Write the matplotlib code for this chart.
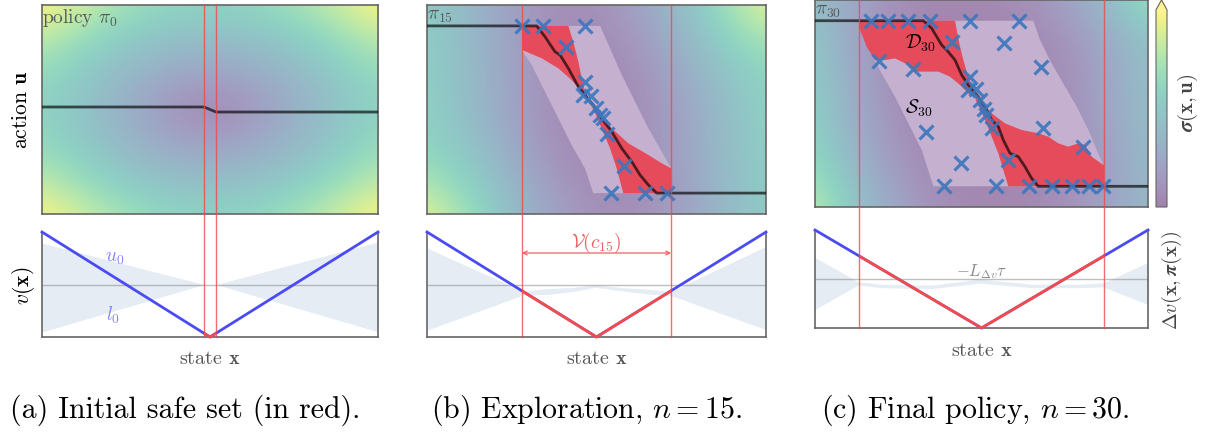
import numpy as np
import matplotlib.pyplot as plt
from matplotlib.colors import ListedColormap
from matplotlib.lines import Line2D
from matplotlib.patches import Polygon, Rectangle
from matplotlib import transforms

plt.rcParams['font.family'] = 'serif'
plt.rcParams['font.serif'] = ['cmr10']
plt.rcParams['mathtext.fontset'] = 'cm'
plt.rcParams['axes.unicode_minus'] = False

# sigma(x, u) on a coarse 7x7 grid, rows u = 1 .. -1, cols x = -1 .. 1
sigma_a = [[1.00, 0.80, 0.64, 0.58, 0.64, 0.80, 1.00],
           [0.82, 0.60, 0.45, 0.40, 0.45, 0.60, 0.82],
           [0.66, 0.46, 0.28, 0.18, 0.28, 0.46, 0.66],
           [0.60, 0.40, 0.18, 0.00, 0.18, 0.40, 0.60],
           [0.66, 0.46, 0.28, 0.18, 0.28, 0.46, 0.66],
           [0.82, 0.60, 0.45, 0.40, 0.45, 0.60, 0.82],
           [1.00, 0.80, 0.64, 0.58, 0.64, 0.80, 1.00]]
sigma_b = [[0.55, 0.30, 0.10, 0.08, 0.25, 0.60, 0.95],
           [0.56, 0.32, 0.08, 0.04, 0.18, 0.50, 0.75],
           [0.58, 0.33, 0.10, 0.03, 0.12, 0.40, 0.62],
           [0.60, 0.33, 0.10, 0.02, 0.10, 0.33, 0.60],
           [0.62, 0.40, 0.12, 0.03, 0.10, 0.33, 0.58],
           [0.75, 0.50, 0.18, 0.04, 0.08, 0.32, 0.56],
           [0.95, 0.60, 0.25, 0.08, 0.10, 0.30, 0.55]]
sigma_c = [[0.45, 0.15, 0.05, 0.05, 0.10, 0.30, 0.72],
           [0.50, 0.10, 0.02, 0.02, 0.05, 0.20, 0.50],
           [0.55, 0.12, 0.02, 0.01, 0.03, 0.15, 0.45],
           [0.58, 0.15, 0.03, 0.01, 0.03, 0.15, 0.45],
           [0.62, 0.18, 0.04, 0.02, 0.02, 0.12, 0.42],
           [0.72, 0.25, 0.06, 0.02, 0.03, 0.12, 0.40],
           [0.85, 0.35, 0.10, 0.05, 0.05, 0.15, 0.38]]

# policies pi_0, pi_15, pi_30
pol_x_a = [-1, -0.036, 0.036, 1]
pol_u_a = [0.024, 0.024, -0.024, -0.024]
pol_x_b = [-1, -0.353, -0.304, -0.245, -0.215, -0.166, -0.107, -0.068, -0.019,
           0.030, 0.090, 0.149, 0.208, 0.257, 0.306, 0.355, 1]
pol_u_b = [0.80, 0.80, 0.697, 0.553, 0.522, 0.394, 0.218, 0.139, 0.043,
           -0.085, -0.212, -0.372, -0.499, -0.627, -0.722, -0.80, -0.80]
pol_x_c = [-1, -0.349, -0.299, -0.239, -0.209, -0.159, -0.119, -0.079, -0.019,
           0.031, 0.061, 0.101, 0.131, 0.171, 0.221, 0.261, 0.301, 0.341, 1]
pol_u_c = [0.80, 0.80, 0.726, 0.565, 0.517, 0.420, 0.275, 0.179, 0.066,
           -0.063, -0.159, -0.224, -0.353, -0.481, -0.514, -0.610, -0.723, -0.80, -0.80]

# collected data points
data_x_b = [-0.438, -0.314, -0.068, -0.182, -0.068, -0.081, -0.032, -0.003,
            0.021, 0.040, 0.060, 0.162, 0.086, 0.288, 0.414]
data_u_b = [0.80, 0.80, 0.80, 0.595, 0.263, 0.136, 0.129, 0.014,
            -0.053, -0.077, -0.234, -0.538, -0.80, -0.80, -0.80]
data_x_c = [-0.664, -0.560, -0.440, -0.309, -0.069, 0.227, -0.179, 0.135,
            -0.616, -0.410, 0.357, -0.069, -0.079, -0.035, -0.009, 0.017,
            0.025, 0.061, 0.371, -0.333, 0.608, 0.161, -0.123,
            -0.225, 0.087, 0.287, 0.422, 0.542, 0.647, 0.728]
data_u_c = [0.80, 0.80, 0.80, 0.80, 0.80, 0.80, 0.591, 0.582,
            0.414, 0.333, 0.350, 0.253, 0.130, 0.137, 0.034, -0.056,
            -0.111, -0.240, -0.234, -0.272, -0.417, -0.546, -0.578,
            -0.80, -0.80, -0.80, -0.80, -0.80, -0.80, -0.80]

# level set of v (light) and the part where v decreases (red)
level_b = [(-0.438, 0.80), (0.021, 0.80), (0.080, 0.585), (0.149, 0.330),
           (0.227, 0.075), (0.306, -0.180), (0.385, -0.404), (0.44, -0.563),
           (0.44, -0.80), (-0.019, -0.80), (-0.068, -0.563), (-0.147, -0.340),
           (-0.225, -0.085), (-0.304, 0.171), (-0.382, 0.426), (-0.438, 0.560)]
dec_b_1 = [(-0.438, 0.80), (-0.166, 0.80), (-0.137, 0.649), (-0.107, 0.458),
           (-0.087, 0.298), (-0.068, 0.171), (-0.038, 0.075), (-0.009, -0.021),
           (-0.087, 0.171), (-0.147, 0.282), (-0.225, 0.394), (-0.323, 0.490),
           (-0.438, 0.569)]
dec_b_2 = [(-0.019, 0.011), (0.011, -0.021), (0.090, -0.180), (0.188, -0.324),
           (0.306, -0.435), (0.385, -0.515), (0.44, -0.563), (0.44, -0.80),
           (0.158, -0.80), (0.119, -0.563), (0.080, -0.372), (0.030, -0.180)]
level_c = [(-0.736, 0.80), (0.311, 0.80), (0.351, 0.614), (0.421, 0.388),
           (0.502, 0.163), (0.572, -0.031), (0.642, -0.256), (0.692, -0.449),
           (0.732, -0.594), (0.736, -0.594), (0.736, -0.80), (-0.289, -0.80),
           (-0.359, -0.449), (-0.439, -0.192), (-0.520, 0.066), (-0.600, 0.291),
           (-0.680, 0.549), (-0.736, 0.758)]
dec_c_1 = [(-0.736, 0.80), (-0.159, 0.80), (-0.149, 0.710), (-0.129, 0.549),
           (-0.109, 0.420), (-0.089, 0.308), (-0.069, 0.211), (-0.039, 0.098),
           (-0.009, 0.034), (-0.079, 0.098), (-0.129, 0.179), (-0.189, 0.259),
           (-0.259, 0.308), (-0.329, 0.308), (-0.399, 0.308), (-0.459, 0.388),
           (-0.520, 0.436), (-0.580, 0.420), (-0.640, 0.420), (-0.690, 0.549),
           (-0.736, 0.742)]
dec_c_2 = [(-0.009, 0.034), (0.061, -0.095), (0.141, -0.192), (0.241, -0.256),
           (0.341, -0.288), (0.401, -0.320), (0.461, -0.385), (0.521, -0.417),
           (0.582, -0.385), (0.622, -0.401), (0.662, -0.514), (0.732, -0.594),
           (0.736, -0.594), (0.736, -0.80), (0.161, -0.80), (0.131, -0.643),
           (0.101, -0.481), (0.061, -0.320), (0.021, -0.159), (-0.039, 0.050)]

# Lyapunov function v(x) and the bounds on its decrease
v_x = [-1, 0, 1]
v_y = [1, 0, 1]
level_c_vals = [0.036, 0.44, 0.736]
band_x_a = [-1, -0.036, 0.036, 1]
band_up_a = [0.895, 0.5, 0.5, 0.905]
band_lo_a = [0.048, 0.5, 0.5, 0.05]
band_x_b = [-1, -0.434, -0.30, -0.15, -0.007, 0.15, 0.30, 0.441, 1]
band_up_b = [0.848, 0.435, 0.46, 0.47, 0.498, 0.47, 0.455, 0.435, 0.864]
band_lo_b = [0.065, 0.40, 0.405, 0.43, 0.473, 0.44, 0.41, 0.395, 0.07]
band_x_c = [-1, -0.74, -0.6, -0.3, -0.01, 0.3, 0.6, 0.73, 1]
band_up_c = [0.72, 0.47, 0.447, 0.437, 0.50, 0.447, 0.447, 0.46, 0.67]
band_lo_c = [0.19, 0.44, 0.412, 0.402, 0.458, 0.412, 0.412, 0.42, 0.24]

W, H = 1226, 432
fig = plt.figure(figsize=(W / 100, H / 100), dpi=100)
fig.patch.set_facecolor('white')

base = plt.get_cmap('viridis')(np.linspace(0, 1, 256))
base[:, :3] = 0.5 * base[:, :3] + 0.5
faded = ListedColormap(base)

GRAY = '#666666'


def box(l, t, r, b):
    return fig.add_axes([l / W, 1 - b / H, (r - l) / W, (b - t) / H])


def draw_top(ax, sigma, px, pu, label):
    n = len(sigma)
    d = 2.0 / (n - 1)
    im = ax.imshow(sigma, cmap=faded, vmin=0, vmax=1, aspect='auto',
                   interpolation='bicubic',
                   extent=[-1 - d / 2, 1 + d / 2, -1 - d / 2, 1 + d / 2])
    ax.set_xlim(-1, 1)
    ax.set_ylim(-1, 1)
    ax.plot(px, pu, color='black', alpha=0.65, lw=2, zorder=4)
    ax.text(0.0, 0.99, label, transform=ax.transAxes, ha='left', va='top',
            color='#5a5a5a', fontsize=14, zorder=6)
    ax.set_xticks([])
    ax.set_yticks([])
    for s in ax.spines.values():
        s.set_color(GRAY)
        s.set_linewidth(1.2)
    return im


def draw_bottom(ax, c, bx, bup, blo):
    ax.patch.set_visible(False)
    ax.fill_between(bx, blo, bup, color='#e5ecf4', lw=0)
    ax.axhline(0.5, color='gray', alpha=0.5, lw=1)
    ax.plot(v_x, v_y, color='#4b4bf5', lw=2, clip_on=False, zorder=3)
    red, = ax.plot(v_x, v_y, color='#f54b4b', lw=2, zorder=4)
    clip = Rectangle((-c, -0.5), 2 * c, 2,
                     transform=transforms.blended_transform_factory(ax.transData, ax.transAxes))
    red.set_clip_path(clip)
    ax.set_xlim(-1, 1)
    ax.set_ylim(0, 1)
    ax.set_xticks([])
    ax.set_yticks([])
    ax.spines['top'].set_visible(False)
    for k in ['left', 'right', 'bottom']:
        ax.spines[k].set_color(GRAY)
        ax.spines[k].set_linewidth(1.2)


def region(ax, pts, color):
    ax.add_patch(Polygon(pts, closed=True, facecolor=color, edgecolor='none', zorder=2))


def level_lines(ax_top, ax_bot, c):
    y0 = ax_bot.get_position().y0
    y1 = ax_top.get_position().y1
    tr = transforms.blended_transform_factory(ax_top.transData, fig.transFigure)
    for x in (-c, c):
        fig.add_artist(Line2D([x, x], [y0, y1], transform=tr, color='#f04848',
                              alpha=0.8, lw=1))


LAV = '#c5b1cf'
RED = '#e54b5a'

top_a = box(42, 5, 378, 214)
bot_a = box(42, 232, 378, 337)
top_b = box(427, 5, 766, 214)
bot_b = box(427, 232, 766, 337)
top_c = box(815, 0, 1148, 207)
bot_c = box(815, 230, 1148, 328)
cax = box(1156, 0, 1167, 207)

# (a) initial policy
draw_top(top_a, sigma_a, pol_x_a, pol_u_a, r'policy $\pi_0$')
draw_bottom(bot_a, level_c_vals[0], band_x_a, band_up_a, band_lo_a)
bot_a.text(-0.565, 0.75, r'$u_0$', color='#8585ff', fontsize=14, ha='center', va='center')
bot_a.text(-0.577, 0.21, r'$l_0$', color='#8585ff', fontsize=14, ha='center', va='center')

# (b) exploration
draw_top(top_b, sigma_b, pol_x_b, pol_u_b, r'$\pi_{15}$')
region(top_b, level_b, LAV)
region(top_b, dec_b_1, RED)
region(top_b, dec_b_2, RED)
top_b.plot(data_x_b, data_u_b, 'x', color='#3b77bd', alpha=0.9, ms=9.5, mew=2.3, zorder=5)
draw_bottom(bot_b, level_c_vals[1], band_x_b, band_up_b, band_lo_b)
bot_b.annotate('', xy=(-level_c_vals[1], 0.8), xytext=(level_c_vals[1], 0.8),
               arrowprops=dict(arrowstyle='<->', color='#f06060', lw=0.9,
                               shrinkA=0, shrinkB=0, mutation_scale=7))
bot_b.text(0, 0.9, r'$\mathcal{V}(c_{15})$', color='#f06060', fontsize=14,
           ha='center', va='center')

# (c) final policy
im = draw_top(top_c, sigma_c, pol_x_c, pol_u_c, r'$\pi_{30}$')
region(top_c, level_c, LAV)
region(top_c, dec_c_1, RED)
region(top_c, dec_c_2, RED)
top_c.plot(data_x_c, data_u_c, 'x', color='#3b77bd', alpha=0.9, ms=9.5, mew=2.3, zorder=5)
top_c.text(-0.369, 0.58, r'$\mathcal{D}_{30}$', fontsize=14, ha='center', va='center', zorder=6)
top_c.text(-0.379, -0.047, r'$\mathcal{S}_{30}$', fontsize=14, ha='center', va='center', zorder=6)
draw_bottom(bot_c, level_c_vals[2], band_x_c, band_up_c, band_lo_c)
bot_c.text(0, 0.53, r'$-L_{\Delta v}\tau$', color='#888888', fontsize=12,
           ha='center', va='baseline')

for t, b, c in zip([top_a, top_b, top_c], [bot_a, bot_b, bot_c], level_c_vals):
    level_lines(t, b, c)

cb = fig.colorbar(im, cax=cax, extend='max')
cb.set_ticks([])
cb.outline.set_edgecolor(GRAY)

# axis labels
fig.text(21 / W, 1 - 110 / H, r'action $\mathbf{u}$', rotation=90, fontsize=15.5,
         ha='center', va='center')
fig.text(24 / W, 1 - 286 / H, r'$v(\mathbf{x})$', rotation=90, fontsize=15.5,
         ha='center', va='center')
for cx, by in [(210, 364), (597, 364), (982, 356)]:
    fig.text(cx / W, 1 - by / H, r'state $\mathbf{x}$', fontsize=14.5, color='#555555',
             ha='center', va='baseline')
fig.text(1188 / W, 1 - 103 / H, r'$\boldsymbol{\sigma}(\mathbf{x},\mathbf{u})$',
         rotation=90, fontsize=15, color='#444444', ha='center', va='center')
fig.text(1172 / W, 1 - 280 / H, r'$\Delta v(\mathbf{x},\boldsymbol{\pi}(\mathbf{x}))$',
         rotation=90, fontsize=14.5, color='#444444', ha='center', va='center')

# captions
caps = [(185, '(a) Initial safe set (in red).'),
        (586, r'(b) Exploration, $n = 15$.'),
        (975, r'(c) Final policy, $n = 30$.')]
for cx, s in caps:
    fig.text(cx / W, 1 - 410 / H, s, fontsize=21.5, ha='center', va='center')

fig.savefig('out.png', dpi=100)
